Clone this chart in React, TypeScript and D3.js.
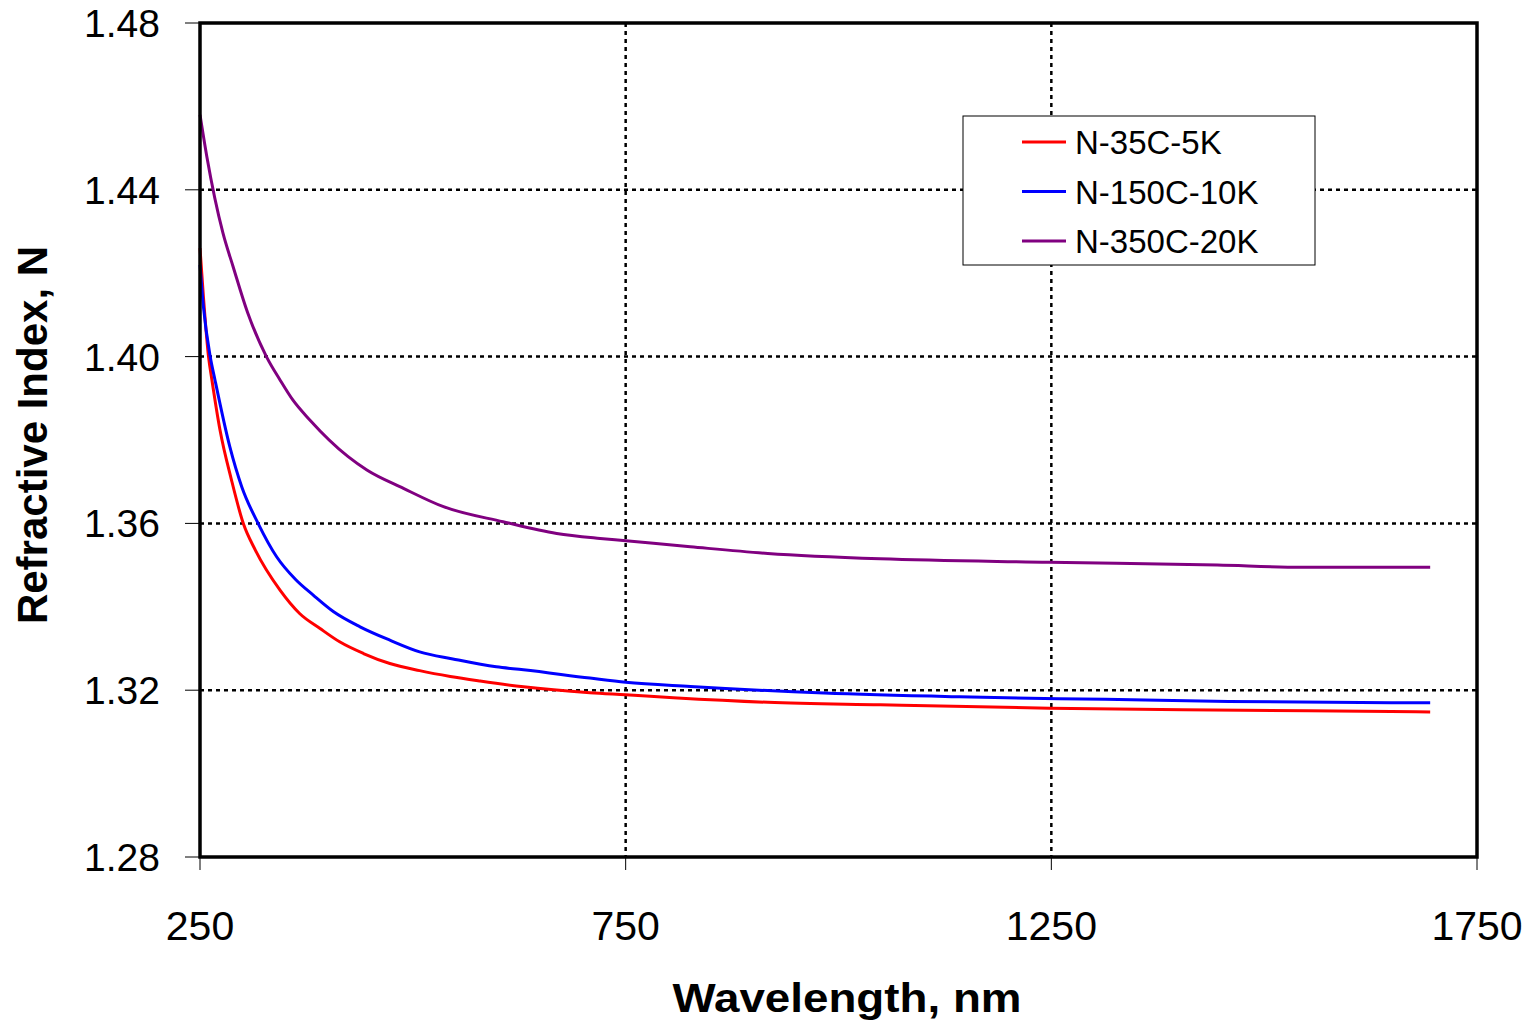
import * as d3 from 'd3';
import React from 'react';

// wavelength (nm) / refractive index
const redNm = [250, 254, 260, 264, 273.5, 287, 301, 315, 344, 367, 391, 414, 442, 473, 508, 544, 579, 630, 708, 750, 806, 917, 1049, 1248, 1405, 1649, 1695];
const redN = [1.426, 1.4144, 1.4, 1.3944, 1.3824, 1.3704, 1.3599, 1.3536, 1.344, 1.3384, 1.3348, 1.3316, 1.3288, 1.3264, 1.3247, 1.3233, 1.3222, 1.3208, 1.3194, 1.3189, 1.3182, 1.3171, 1.3165, 1.3157, 1.3153, 1.3149, 1.3148];

const blueNm = [250, 254, 262, 267.6, 285, 299, 318.5, 340, 362, 383, 407, 438, 473, 508, 547, 598, 630, 708, 750, 826, 983, 1142, 1313, 1458, 1649, 1695];
const blueN = [1.422, 1.412, 1.4, 1.3944, 1.3784, 1.3688, 1.3599, 1.352, 1.3466, 1.3428, 1.3388, 1.3352, 1.332, 1.3292, 1.3275, 1.3256, 1.3249, 1.3229, 1.3219, 1.3209, 1.3193, 1.3184, 1.3178, 1.3173, 1.317, 1.317];

const purpleNm = [250, 258, 277, 289, 306, 328, 344, 359, 379, 424, 446, 489, 536, 606, 669, 720, 747, 826, 917, 1049, 1247, 1445, 1544, 1695];
const purpleN = [1.458, 1.448, 1.4296, 1.4215, 1.4105, 1.4, 1.3944, 1.3896, 1.3848, 1.376, 1.3728, 1.3684, 1.364, 1.3604, 1.3576, 1.3564, 1.3559, 1.3544, 1.3528, 1.3515, 1.3507, 1.35, 1.3495, 1.3495];

const seriesNames = ['N-35C-5K', 'N-150C-10K', 'N-350C-20K'];
const seriesColors = ['#ff0000', '#0000ff', '#800080'];

const xTicks = [250, 750, 1250, 1750];
const yTicks = [1.28, 1.32, 1.36, 1.4, 1.44, 1.48];

const W = 1535, H = 1024;
const left = 200, right = 1477, top = 23, bottom = 857;

export default function App() {
  const x = d3.scaleLinear().domain([250, 1750]).range([left, right]);
  const y = d3.scaleLinear().domain([1.28, 1.48]).range([bottom, top]);

  const series = [
    { nm: redNm, n: redN },
    { nm: blueNm, n: blueN },
    { nm: purpleNm, n: purpleN },
  ];

  const line = d3.line<[number, number]>()
    .x(d => x(d[0]))
    .y(d => y(d[1]))
    .curve(d3.curveMonotoneX);

  const font = 'Arial, "Liberation Sans", Helvetica, sans-serif';

  return (
    <svg width={W} height={H} style={{ position: 'absolute', left: 0, top: 0, background: '#fff' }}>
      <rect x={0} y={0} width={W} height={H} fill="#fff" />

      {/* grid */}
      {yTicks.slice(1, -1).map(t => (
        <line key={'gy' + t} x1={left} x2={right} y1={y(t)} y2={y(t)}
          stroke="#000" strokeWidth={2.5} strokeDasharray="4,4" />
      ))}
      {xTicks.slice(1, -1).map(t => (
        <line key={'gx' + t} x1={x(t)} x2={x(t)} y1={top} y2={bottom}
          stroke="#000" strokeWidth={2.5} strokeDasharray="4,4" />
      ))}

      {/* curves */}
      {series.map((s, i) => (
        <path key={i} d={line(d3.zip(s.nm, s.n) as [number, number][]) || ''}
          fill="none" stroke={seriesColors[i]} strokeWidth={3} />
      ))}

      {/* frame */}
      <rect x={left} y={top} width={right - left} height={bottom - top}
        fill="none" stroke="#000" strokeWidth={3.5} />

      {/* y axis */}
      {yTicks.map(t => (
        <g key={'yt' + t}>
          <line x1={left - 15} x2={left} y1={y(t)} y2={y(t)} stroke="#000" strokeWidth={1} />
          <text x={160} y={y(t) + 14} textAnchor="end" fontFamily={font} fontSize={39}>
            {d3.format('.2f')(t)}
          </text>
        </g>
      ))}

      {/* x axis */}
      {xTicks.map(t => (
        <g key={'xt' + t}>
          <line x1={x(t)} x2={x(t)} y1={bottom} y2={bottom + 13} stroke="#000" strokeWidth={1} />
          <text x={x(t)} y={940} textAnchor="middle" fontFamily={font} fontSize={41}>
            {t}
          </text>
        </g>
      ))}

      {/* axis titles */}
      <text x={847} y={1012} textAnchor="middle" fontFamily={font} fontSize={40} fontWeight="bold"
        textLength={349} lengthAdjust="spacingAndGlyphs">
        Wavelength, nm
      </text>
      <text transform={`translate(47,435) rotate(-90)`} textAnchor="middle" fontFamily={font}
        fontSize={42} fontWeight="bold">
        Refractive Index, N
      </text>

      {/* legend */}
      <rect x={963} y={116} width={352} height={149} fill="#fff" stroke="#000" strokeWidth={1} />
      {seriesNames.map((name, i) => (
        <g key={name}>
          <line x1={1022} x2={1066} y1={142 + i * 49.5} y2={142 + i * 49.5}
            stroke={seriesColors[i]} strokeWidth={3} />
          <text x={1075} y={154 + i * 49.5} fontFamily={font} fontSize={33}>{name}</text>
        </g>
      ))}
    </svg>
  );
}
